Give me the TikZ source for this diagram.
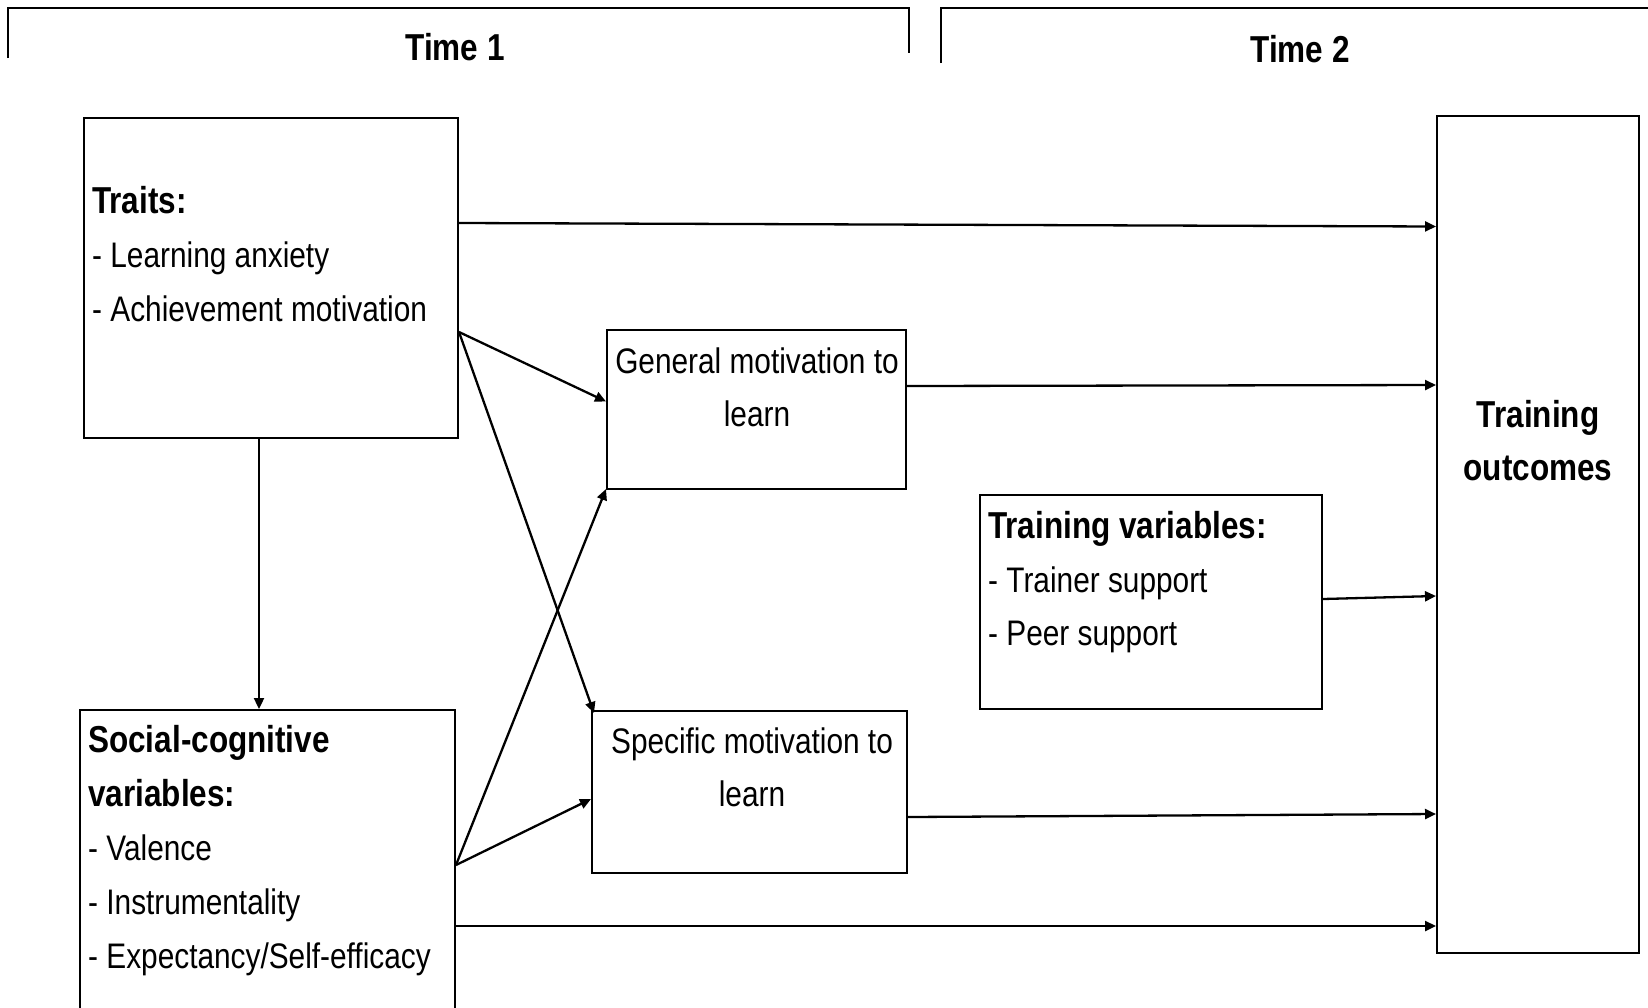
\documentclass[tikz,border=0pt]{standalone}
\usepackage{fontspec}
\setmainfont{Liberation Sans}[FakeStretch=0.84]
\usetikzlibrary{arrows.meta}
\begin{document}
\begin{tikzpicture}[x=1pt,y=-1pt,
  box/.style={draw,line width=2pt,inner sep=0pt,minimum width=#1},
  lbl/.style={anchor=base west,inner sep=0pt,font=\fontsize{35.5}{35.5}\selectfont},
  hdr/.style={anchor=base west,inner sep=0pt,font=\fontsize{37.5}{37.5}\selectfont\bfseries},
  ctr/.style={anchor=base,inner sep=0pt,font=\fontsize{35.5}{35.5}\selectfont},
  ttl/.style={anchor=base,inner sep=0pt,font=\fontsize{37.5}{37.5}\selectfont\bfseries},
  arr/.style={line width=2.3pt,-{Triangle[length=11pt,width=10pt]}},
  bracket/.style={line width=2pt}]
\useasboundingbox (0,0) rectangle (1648,1007);

% period brackets
\draw[bracket] (8,58) -- (8,8) -- (909,8) -- (909,53);
\draw[bracket] (941,63) -- (941,8) -- (1652,8);
\node[ttl] (time1) at (455,60) {Time 1};
\node[ttl] (time2) at (1300,62) {Time 2};

% boxes
\node[box=374pt,minimum height=320pt] (traits) at (271,278) {};
\node[box=375pt,minimum height=320pt] (social) at (267.5,870) {};
\node[box=299pt,minimum height=159pt] (general) at (756.5,409.5) {};
\node[box=315pt,minimum height=162pt] (specific) at (749.5,792) {};
\node[box=342pt,minimum height=214pt] (trainvar) at (1151,602) {};
\node[box=202pt,minimum height=837pt] (outcomes) at (1538,534.5) {};

% box texts
\node[hdr] (tr0) at (92,213) {Traits:};
\node[lbl] (tr1) at (92,267) {- Learning anxiety};
\node[lbl] (tr2) at (92,321) {- Achievement motivation};

\node[hdr] (sc0) at (88,752) {Social-cognitive};
\node[hdr] (sc1) at (88,806) {variables:};
\node[lbl] (sc2) at (88,860) {- Valence};
\node[lbl] (sc3) at (88,914) {- Instrumentality};
\node[lbl] (sc4) at (88,968) {- Expectancy/Self-efficacy};

\node[ctr] (gm0) at (757,373) {General motivation to};
\node[ctr] (gm1) at (757,426) {learn};

\node[ctr] (sm0) at (752,753) {Specific motivation to};
\node[ctr] (sm1) at (752,806) {learn};

\node[hdr] (tv0) at (988,538) {Training variables:};
\node[lbl] (tv1) at (988,592) {- Trainer support};
\node[lbl] (tv2) at (988,645) {- Peer support};

\node[ttl] (to0) at (1538,427) {Training};
\node[ttl] (to1) at (1538,480) {outcomes};

% connectors
\draw[arr] ([yshift=55pt]traits.east) -- ([yshift=308pt]outcomes.west);
\draw[arr] ([yshift=-54pt]traits.east) -- ([yshift=8pt]general.west);
\draw[arr] ([yshift=-54pt]traits.east) -- ([xshift=3pt,yshift=-3pt]specific.north west);
\draw[arr] ([yshift=23.5pt]general.east) -- ([yshift=149.5pt]outcomes.west);
\draw[arr] ([xshift=-12pt]traits.south) -- ([xshift=-12pt]traits.south |- social.north);
\draw[arr] ([yshift=5pt]social.east) -- ([yshift=1pt]general.south west);
\draw[arr] ([yshift=5pt]social.east) -- ([yshift=-7pt]specific.west);
\draw[arr] ([yshift=3pt]trainvar.east) -- ([yshift=-61.5pt]outcomes.west);
\draw[arr] ([yshift=-25pt]specific.east) -- ([yshift=-279.5pt]outcomes.west);
\draw[arr] ([yshift=-56pt]social.east) -- ([yshift=-391.5pt]outcomes.west);
\end{tikzpicture}
\end{document}
